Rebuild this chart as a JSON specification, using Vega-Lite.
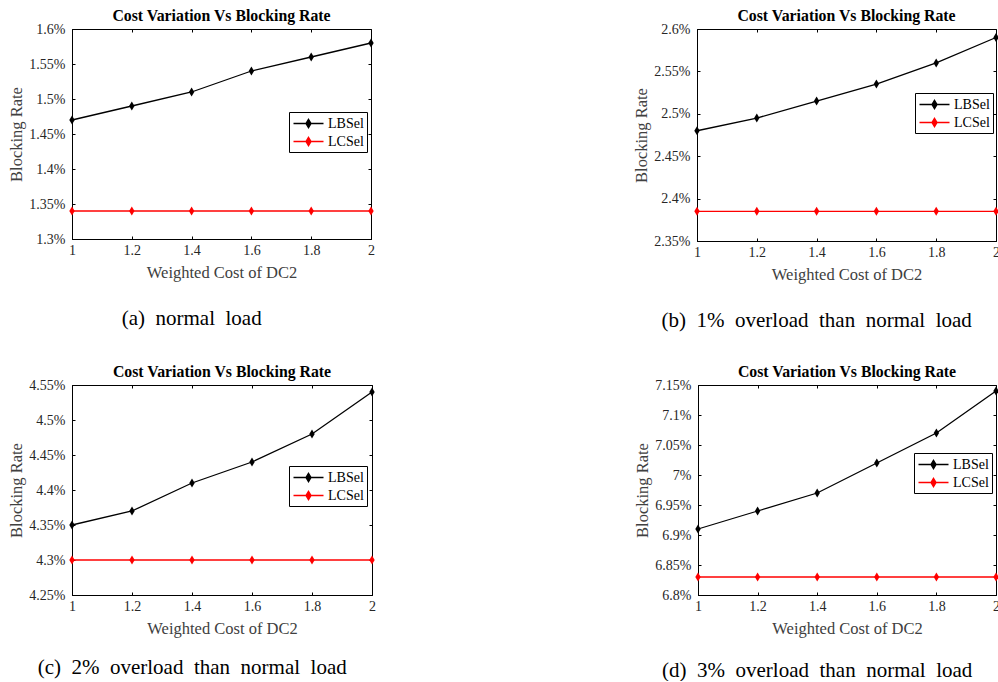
{
  "$schema": "https://vega.github.io/schema/vega-lite/v6.json",
  "background": "white",
  "padding": {"left": 8, "top": 7, "right": 0, "bottom": 0},
  "config": {
    "font": "Liberation Serif",
    "view": {"stroke": "black", "strokeWidth": 1},
    "axis": {
      "domainColor": "black", "domainWidth": 1,
      "tickColor": "black", "tickSize": -3, "tickWidth": 1,
      "labelFont": "Liberation Serif", "labelFontSize": 14, "labelColor": "#262626",
      "titleFont": "Liberation Serif", "titleFontSize": 16.5, "titleFontWeight": "normal", "titleColor": "#404040",
      "grid": false
    },
    "axisY": {"titlePadding": 4, "labelPadding": 10},
    "axisX": {"titlePadding": 7, "labelPadding": 7, "labelFlush": false, "labelExpr": "format(datum.value, '~g')"},
    "axisTop": {"minExtent": 0, "maxExtent": 0, "labelPadding": 0, "offset": 0},
    "axisRight": {"minExtent": 0, "maxExtent": 0, "labelPadding": 0, "offset": 0},
    "legend": {
      "labelFont": "Liberation Serif", "labelFontSize": 14, "labelColor": "black",
      "strokeColor": "black", "fillColor": "white", "padding": 3, "rowPadding": 2,
      "symbolType": "M-2,0H2M0,-0.56L0.34,0L0,0.56L-0.34,0Z", "symbolSize": 225, "symbolStrokeWidth": 1.3,
      "symbolOffset": 8, "labelOffset": 11
    },
    "title": {"font": "Liberation Serif", "color": "black"}
  },
  "datasets": {
    "a": [
      {"cost": 1, "series": "LBSel", "rate": 1.47}, {"cost": 1.2, "series": "LBSel", "rate": 1.49}, {"cost": 1.4, "series": "LBSel", "rate": 1.51},
      {"cost": 1.6, "series": "LBSel", "rate": 1.54}, {"cost": 1.8, "series": "LBSel", "rate": 1.56}, {"cost": 2, "series": "LBSel", "rate": 1.58},
      {"cost": 1, "series": "LCSel", "rate": 1.34}, {"cost": 1.2, "series": "LCSel", "rate": 1.34}, {"cost": 1.4, "series": "LCSel", "rate": 1.34},
      {"cost": 1.6, "series": "LCSel", "rate": 1.34}, {"cost": 1.8, "series": "LCSel", "rate": 1.34}, {"cost": 2, "series": "LCSel", "rate": 1.34}
    ],
    "b": [
      {"cost": 1, "series": "LBSel", "rate": 2.48}, {"cost": 1.2, "series": "LBSel", "rate": 2.495}, {"cost": 1.4, "series": "LBSel", "rate": 2.515},
      {"cost": 1.6, "series": "LBSel", "rate": 2.535}, {"cost": 1.8, "series": "LBSel", "rate": 2.56}, {"cost": 2, "series": "LBSel", "rate": 2.59},
      {"cost": 1, "series": "LCSel", "rate": 2.385}, {"cost": 1.2, "series": "LCSel", "rate": 2.385}, {"cost": 1.4, "series": "LCSel", "rate": 2.385},
      {"cost": 1.6, "series": "LCSel", "rate": 2.385}, {"cost": 1.8, "series": "LCSel", "rate": 2.385}, {"cost": 2, "series": "LCSel", "rate": 2.385}
    ],
    "c": [
      {"cost": 1, "series": "LBSel", "rate": 4.35}, {"cost": 1.2, "series": "LBSel", "rate": 4.37}, {"cost": 1.4, "series": "LBSel", "rate": 4.41},
      {"cost": 1.6, "series": "LBSel", "rate": 4.44}, {"cost": 1.8, "series": "LBSel", "rate": 4.48}, {"cost": 2, "series": "LBSel", "rate": 4.54},
      {"cost": 1, "series": "LCSel", "rate": 4.3}, {"cost": 1.2, "series": "LCSel", "rate": 4.3}, {"cost": 1.4, "series": "LCSel", "rate": 4.3},
      {"cost": 1.6, "series": "LCSel", "rate": 4.3}, {"cost": 1.8, "series": "LCSel", "rate": 4.3}, {"cost": 2, "series": "LCSel", "rate": 4.3}
    ],
    "d": [
      {"cost": 1, "series": "LBSel", "rate": 6.91}, {"cost": 1.2, "series": "LBSel", "rate": 6.94}, {"cost": 1.4, "series": "LBSel", "rate": 6.97},
      {"cost": 1.6, "series": "LBSel", "rate": 7.02}, {"cost": 1.8, "series": "LBSel", "rate": 7.07}, {"cost": 2, "series": "LBSel", "rate": 7.14},
      {"cost": 1, "series": "LCSel", "rate": 6.83}, {"cost": 1.2, "series": "LCSel", "rate": 6.83}, {"cost": 1.4, "series": "LCSel", "rate": 6.83},
      {"cost": 1.6, "series": "LCSel", "rate": 6.83}, {"cost": 1.8, "series": "LCSel", "rate": 6.83}, {"cost": 2, "series": "LCSel", "rate": 6.83}
    ]
  },
  "spacing": 32,
  "resolve": {"legend": {"color": "independent"}, "scale": {"color": "independent", "fill": "independent"}},
  "vconcat": [
    {
      "spacing": 258,
      "resolve": {"legend": {"color": "independent"}, "scale": {"color": "independent", "fill": "independent"}},
      "hconcat": [
        {
          "title": {"text": "(a)\u00a0\u00a0normal\u00a0\u00a0load", "orient": "bottom", "anchor": "middle", "frame": "bounds", "fontSize": 21, "fontWeight": "normal", "offset": 27},
          "vconcat": [{
            "title": {"text": "Cost Variation Vs Blocking Rate", "fontSize": 15.8, "fontWeight": "bold", "offset": -3, "anchor": "middle"},
            "width": 299, "height": 210,
            "data": {"name": "a"},
            "encoding": {
              "x": {"field": "cost", "type": "quantitative", "scale": {"domain": [1, 2], "nice": false, "zero": false}},
              "y": {"field": "rate", "type": "quantitative", "scale": {"domain": [1.3, 1.6], "nice": false, "zero": false}}
            },
            "resolve": {"axis": {"x": "independent", "y": "independent"}},
            "layer": [
              {"mark": {"type": "line", "strokeWidth": 1.3}, "encoding": {
                "x": {"field": "cost", "type": "quantitative", "axis": {"values": [1, 1.2, 1.4, 1.6, 1.8, 2], "title": "Weighted Cost of DC2"}},
                "y": {"field": "rate", "type": "quantitative", "axis": {"values": [1.3, 1.35, 1.4, 1.45, 1.5, 1.55, 1.6], "labelExpr": "format(datum.value, '.3~f') + '%'", "title": "Blocking Rate"}},
                "color": {"field": "series", "type": "nominal", "scale": {"domain": ["LBSel", "LCSel"], "range": ["black", "red"]}, "legend": {"title": null, "orient": "none", "legendX": 217, "legendY": 83, "encode": {"symbols": {"update": {"fill": {"scale": "color", "field": "value"}}}}}}}},
              {"mark": {"type": "point", "shape": "M0,-1L0.6,0L0,1L-0.6,0Z", "filled": true, "size": 81, "opacity": 1}, "encoding": {
                "x": {"field": "cost", "type": "quantitative", "axis": null},
                "y": {"field": "rate", "type": "quantitative", "axis": null},
                "fill": {"field": "series", "type": "nominal", "scale": {"domain": ["LBSel", "LCSel"], "range": ["black", "red"]}, "legend": null}}},
              {"mark": {"type": "point", "opacity": 0}, "encoding": {
                "x": {"field": "cost", "type": "quantitative", "axis": {"orient": "top", "values": [1, 1.2, 1.4, 1.6, 1.8, 2], "labels": false, "title": null, "domain": false}},
                "y": {"field": "rate", "type": "quantitative", "axis": {"orient": "right", "values": [1.3, 1.35, 1.4, 1.45, 1.5, 1.55, 1.6], "labels": false, "title": null, "domain": false}}
              }}
            ]
          }]
        },
        {
          "title": {"text": "(b)\u00a0\u00a01%\u00a0\u00a0overload\u00a0\u00a0than\u00a0\u00a0normal\u00a0\u00a0load", "orient": "bottom", "anchor": "middle", "frame": "bounds", "fontSize": 21, "fontWeight": "normal", "offset": 27},
          "vconcat": [{
            "title": {"text": "Cost Variation Vs Blocking Rate", "fontSize": 15.8, "fontWeight": "bold", "offset": -3, "anchor": "middle"},
            "width": 299, "height": 212,
            "data": {"name": "b"},
            "encoding": {
              "x": {"field": "cost", "type": "quantitative", "scale": {"domain": [1, 2], "nice": false, "zero": false}},
              "y": {"field": "rate", "type": "quantitative", "scale": {"domain": [2.35, 2.6], "nice": false, "zero": false}}
            },
            "resolve": {"axis": {"x": "independent", "y": "independent"}},
            "layer": [
              {"mark": {"type": "line", "strokeWidth": 1.3}, "encoding": {
                "x": {"field": "cost", "type": "quantitative", "axis": {"values": [1, 1.2, 1.4, 1.6, 1.8, 2], "title": "Weighted Cost of DC2"}},
                "y": {"field": "rate", "type": "quantitative", "axis": {"values": [2.35, 2.4, 2.45, 2.5, 2.55, 2.6], "labelExpr": "format(datum.value, '.3~f') + '%'", "title": "Blocking Rate"}},
                "color": {"field": "series", "type": "nominal", "scale": {"domain": ["LBSel", "LCSel"], "range": ["black", "red"]}, "legend": {"title": null, "orient": "none", "legendX": 218, "legendY": 64, "encode": {"symbols": {"update": {"fill": {"scale": "color", "field": "value"}}}}}}}},
              {"mark": {"type": "point", "shape": "M0,-1L0.6,0L0,1L-0.6,0Z", "filled": true, "size": 81, "opacity": 1}, "encoding": {
                "x": {"field": "cost", "type": "quantitative", "axis": null},
                "y": {"field": "rate", "type": "quantitative", "axis": null},
                "fill": {"field": "series", "type": "nominal", "scale": {"domain": ["LBSel", "LCSel"], "range": ["black", "red"]}, "legend": null}}},
              {"mark": {"type": "point", "opacity": 0}, "encoding": {
                "x": {"field": "cost", "type": "quantitative", "axis": {"orient": "top", "values": [1, 1.2, 1.4, 1.6, 1.8, 2], "labels": false, "title": null, "domain": false}},
                "y": {"field": "rate", "type": "quantitative", "axis": {"orient": "right", "values": [2.35, 2.4, 2.45, 2.5, 2.55, 2.6], "labels": false, "title": null, "domain": false}}
              }}
            ]
          }]
        }
      ]
    },
    {
      "spacing": 258,
      "resolve": {"legend": {"color": "independent"}, "scale": {"color": "independent", "fill": "independent"}},
      "hconcat": [
        {
          "title": {"text": "(c)\u00a0\u00a02%\u00a0\u00a0overload\u00a0\u00a0than\u00a0\u00a0normal\u00a0\u00a0load", "orient": "bottom", "anchor": "middle", "frame": "bounds", "fontSize": 21, "fontWeight": "normal", "offset": 20},
          "vconcat": [{
            "title": {"text": "Cost Variation Vs Blocking Rate", "fontSize": 15.8, "fontWeight": "bold", "offset": -3, "anchor": "middle"},
            "width": 300, "height": 210,
            "data": {"name": "c"},
            "encoding": {
              "x": {"field": "cost", "type": "quantitative", "scale": {"domain": [1, 2], "nice": false, "zero": false}},
              "y": {"field": "rate", "type": "quantitative", "scale": {"domain": [4.25, 4.55], "nice": false, "zero": false}}
            },
            "resolve": {"axis": {"x": "independent", "y": "independent"}},
            "layer": [
              {"mark": {"type": "line", "strokeWidth": 1.3}, "encoding": {
                "x": {"field": "cost", "type": "quantitative", "axis": {"values": [1, 1.2, 1.4, 1.6, 1.8, 2], "title": "Weighted Cost of DC2"}},
                "y": {"field": "rate", "type": "quantitative", "axis": {"values": [4.25, 4.3, 4.35, 4.4, 4.45, 4.5, 4.55], "labelExpr": "format(datum.value, '.3~f') + '%'", "title": "Blocking Rate"}},
                "color": {"field": "series", "type": "nominal", "scale": {"domain": ["LBSel", "LCSel"], "range": ["black", "red"]}, "legend": {"title": null, "orient": "none", "legendX": 217, "legendY": 81, "encode": {"symbols": {"update": {"fill": {"scale": "color", "field": "value"}}}}}}}},
              {"mark": {"type": "point", "shape": "M0,-1L0.6,0L0,1L-0.6,0Z", "filled": true, "size": 81, "opacity": 1}, "encoding": {
                "x": {"field": "cost", "type": "quantitative", "axis": null},
                "y": {"field": "rate", "type": "quantitative", "axis": null},
                "fill": {"field": "series", "type": "nominal", "scale": {"domain": ["LBSel", "LCSel"], "range": ["black", "red"]}, "legend": null}}},
              {"mark": {"type": "point", "opacity": 0}, "encoding": {
                "x": {"field": "cost", "type": "quantitative", "axis": {"orient": "top", "values": [1, 1.2, 1.4, 1.6, 1.8, 2], "labels": false, "title": null, "domain": false}},
                "y": {"field": "rate", "type": "quantitative", "axis": {"orient": "right", "values": [4.25, 4.3, 4.35, 4.4, 4.45, 4.5, 4.55], "labels": false, "title": null, "domain": false}}
              }}
            ]
          }]
        },
        {
          "title": {"text": "(d)\u00a0\u00a03%\u00a0\u00a0overload\u00a0\u00a0than\u00a0\u00a0normal\u00a0\u00a0load", "orient": "bottom", "anchor": "middle", "frame": "bounds", "fontSize": 21, "fontWeight": "normal", "offset": 23},
          "vconcat": [{
            "title": {"text": "Cost Variation Vs Blocking Rate", "fontSize": 15.8, "fontWeight": "bold", "offset": -3, "anchor": "middle"},
            "width": 298, "height": 210,
            "data": {"name": "d"},
            "encoding": {
              "x": {"field": "cost", "type": "quantitative", "scale": {"domain": [1, 2], "nice": false, "zero": false}},
              "y": {"field": "rate", "type": "quantitative", "scale": {"domain": [6.8, 7.15], "nice": false, "zero": false}}
            },
            "resolve": {"axis": {"x": "independent", "y": "independent"}},
            "layer": [
              {"mark": {"type": "line", "strokeWidth": 1.3}, "encoding": {
                "x": {"field": "cost", "type": "quantitative", "axis": {"values": [1, 1.2, 1.4, 1.6, 1.8, 2], "title": "Weighted Cost of DC2"}},
                "y": {"field": "rate", "type": "quantitative", "axis": {"values": [6.8, 6.85, 6.9, 6.95, 7, 7.05, 7.1, 7.15], "labelExpr": "format(datum.value, '.3~f') + '%'", "title": "Blocking Rate"}},
                "color": {"field": "series", "type": "nominal", "scale": {"domain": ["LBSel", "LCSel"], "range": ["black", "red"]}, "legend": {"title": null, "orient": "none", "legendX": 216, "legendY": 68, "encode": {"symbols": {"update": {"fill": {"scale": "color", "field": "value"}}}}}}}},
              {"mark": {"type": "point", "shape": "M0,-1L0.6,0L0,1L-0.6,0Z", "filled": true, "size": 81, "opacity": 1}, "encoding": {
                "x": {"field": "cost", "type": "quantitative", "axis": null},
                "y": {"field": "rate", "type": "quantitative", "axis": null},
                "fill": {"field": "series", "type": "nominal", "scale": {"domain": ["LBSel", "LCSel"], "range": ["black", "red"]}, "legend": null}}},
              {"mark": {"type": "point", "opacity": 0}, "encoding": {
                "x": {"field": "cost", "type": "quantitative", "axis": {"orient": "top", "values": [1, 1.2, 1.4, 1.6, 1.8, 2], "labels": false, "title": null, "domain": false}},
                "y": {"field": "rate", "type": "quantitative", "axis": {"orient": "right", "values": [6.8, 6.85, 6.9, 6.95, 7, 7.05, 7.1, 7.15], "labels": false, "title": null, "domain": false}}
              }}
            ]
          }]
        }
      ]
    }
  ]
}
